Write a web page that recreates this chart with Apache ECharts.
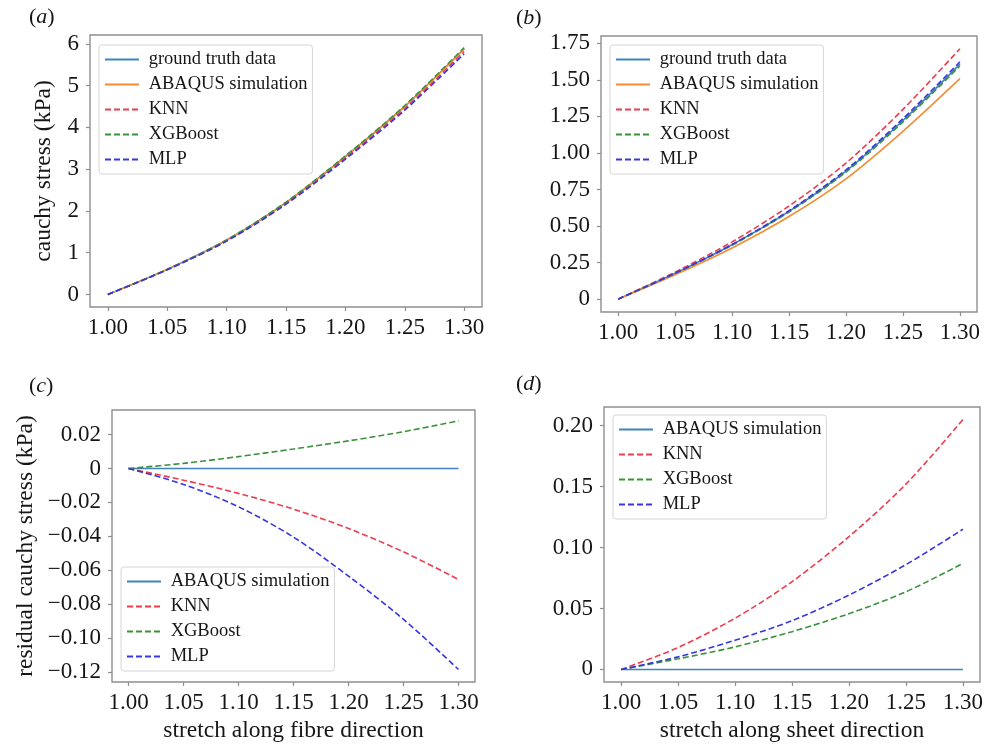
<!DOCTYPE html>
<html>
<head>
<meta charset="utf-8">
<script src="https://cdn.jsdelivr.net/npm/echarts@6/dist/echarts.min.js"></script>
<style>
  html, body { margin: 0; padding: 0; background: #fff; }
  #chart { width: 987px; height: 744px; }
</style>
</head>
<body>
<div id="chart"></div>
<script>
// Stretch values shared by all four panels
const stretch = [1.00, 1.05, 1.10, 1.15, 1.20, 1.25, 1.30];

// (a) cauchy stress, fibre direction (kPa)
const fibreTruth  = [0, 0.600, 1.300, 2.200, 3.300, 4.500, 5.880];
const fibreAbaqus = [0, 0.600, 1.300, 2.200, 3.300, 4.500, 5.880];
const fibreKnn    = [0, 0.593, 1.285, 2.176, 3.265, 4.451, 5.815];
const fibreXgb    = [0, 0.603, 1.307, 2.212, 3.316, 4.522, 5.908];
const fibreMlp    = [0, 0.591, 1.277, 2.160, 3.237, 4.411, 5.761];

// (b) cauchy stress, sheet direction (kPa)
const sheetTruth  = [0, 0.177, 0.372, 0.600, 0.876, 1.222, 1.608];
const sheetAbaqus = [0, 0.167, 0.350, 0.565, 0.823, 1.148, 1.508];
const sheetKnn    = [0, 0.185, 0.392, 0.637, 0.931, 1.298, 1.713];
const sheetXgb    = [0, 0.176, 0.369, 0.596, 0.869, 1.212, 1.595];
const sheetMlp    = [0, 0.177, 0.374, 0.605, 0.884, 1.234, 1.623];

// (c) residual cauchy stress, fibre direction (kPa)
const fibreResAbaqus = [0, 0, 0, 0, 0, 0, 0];
const fibreResKnn    = [0, -0.0069, -0.0147, -0.0240, -0.0354, -0.0492, -0.0655];
const fibreResXgb    = [0, 0.0030, 0.0070, 0.0115, 0.0163, 0.0217, 0.0281];
const fibreResMlp    = [0, -0.0094, -0.0226, -0.0405, -0.0635, -0.0890, -0.1186];

// (d) residual cauchy stress, sheet direction (kPa)
const sheetResAbaqus = [0, 0, 0, 0, 0, 0, 0];
const sheetResKnn    = [0, 0.0180, 0.0420, 0.0720, 0.1090, 0.1520, 0.2050];
const sheetResXgb    = [0, 0.0087, 0.0185, 0.0310, 0.0457, 0.0637, 0.0870];
const sheetResMlp    = [0, 0.0103, 0.0240, 0.0400, 0.0610, 0.0860, 0.1150];

// Tick values and their labels
const xTicks = [1.00, 1.05, 1.10, 1.15, 1.20, 1.25, 1.30];
const xTickLabels = ['1.00', '1.05', '1.10', '1.15', '1.20', '1.25', '1.30'];
const yTicksA = [0, 1, 2, 3, 4, 5, 6];
const yTickLabelsA = ['0', '1', '2', '3', '4', '5', '6'];
const yTicksB = [0, 0.25, 0.5, 0.75, 1.0, 1.25, 1.5, 1.75];
const yTickLabelsB = ['0', '0.25', '0.50', '0.75', '1.00', '1.25', '1.50', '1.75'];
const yTicksC = [-0.12, -0.10, -0.08, -0.06, -0.04, -0.02, 0, 0.02];
const yTickLabelsC = ['\u22120.12', '\u22120.10', '\u22120.08', '\u22120.06', '\u22120.04', '\u22120.02', '0', '0.02'];
const yTicksD = [0, 0.05, 0.10, 0.15, 0.20];
const yTickLabelsD = ['0', '0.05', '0.10', '0.15', '0.20'];

const FONT = '"Liberation Serif", "Times New Roman", "DejaVu Serif", serif';
const FRAME = '#8f8f8f';
const TEXT = '#161616';
const C_SOLID = '#3f84c0';
const C_ORANGE = '#f38c33';
const C_RED = '#ec3d4e';
const C_GREEN = '#3a923a';
const C_BLUE = '#3636e2';

function pairs(xs, ys) { return xs.map((x, i) => [x, ys[i]]); }

function labelFor(ticks, labels) {
  return function (v) {
    for (let i = 0; i < ticks.length; i++) {
      if (Math.abs(ticks[i] - v) < 1e-9) return labels[i];
    }
    return '';
  };
}

const grids = [
  { left: 90,  top: 35,  width: 392, height: 272 },
  { left: 601, top: 36,  width: 376, height: 276 },
  { left: 112, top: 410, width: 363, height: 272 },
  { left: 604, top: 407, width: 376, height: 277 }
].map(g => Object.assign({
  show: true, borderColor: FRAME, borderWidth: 1.4, backgroundColor: '#fff'
}, g));

function xAxis(gi, name) {
  return {
    type: 'value', gridIndex: gi, min: 0.985, max: 1.315,
    axisLine: { show: false, onZero: false },
    splitLine: { show: false },
    axisTick: { show: true, length: 4, customValues: xTicks, lineStyle: { color: FRAME, width: 1.2 } },
    axisLabel: {
      customValues: xTicks, formatter: labelFor(xTicks, xTickLabels),
      fontFamily: FONT, fontSize: 23, color: TEXT, margin: 9
    },
    name: name || '', nameLocation: 'middle', nameGap: 37,
    nameTextStyle: { fontFamily: FONT, fontSize: 23.5, color: TEXT }
  };
}

function yAxis(gi, min, max, ticks, labels, name, gap) {
  return {
    type: 'value', gridIndex: gi, min: min, max: max,
    axisLine: { show: false, onZero: false },
    splitLine: { show: false },
    axisTick: { show: true, length: 4, customValues: ticks, lineStyle: { color: FRAME, width: 1.2 } },
    axisLabel: {
      customValues: ticks, formatter: labelFor(ticks, labels),
      fontFamily: FONT, fontSize: 23, color: TEXT, margin: 11
    },
    name: name || '', nameLocation: 'middle', nameGap: gap || 30,
    nameTextStyle: { fontFamily: FONT, fontSize: 23.5, color: TEXT }
  };
}

function line(gi, key, label, ys, color, dashed) {
  return {
    type: 'line', xAxisIndex: gi, yAxisIndex: gi,
    name: key + ':' + label,
    data: pairs(stretch, ys),
    symbol: 'none', showSymbol: false, smooth: 0.3,
    lineStyle: { color: color, width: 1.6, type: dashed ? [6, 3] : 'solid' },
    itemStyle: { color: color },
    emphasis: { disabled: true },
    silent: true
  };
}

const series = [
  line(0, 'a', 'ground truth data', fibreTruth, C_SOLID, false),
  line(0, 'a', 'ABAQUS simulation', fibreAbaqus, C_ORANGE, false),
  line(0, 'a', 'KNN', fibreKnn, C_RED, true),
  line(0, 'a', 'XGBoost', fibreXgb, C_GREEN, true),
  line(0, 'a', 'MLP', fibreMlp, C_BLUE, true),

  line(1, 'b', 'ground truth data', sheetTruth, C_SOLID, false),
  line(1, 'b', 'ABAQUS simulation', sheetAbaqus, C_ORANGE, false),
  line(1, 'b', 'KNN', sheetKnn, C_RED, true),
  line(1, 'b', 'XGBoost', sheetXgb, C_GREEN, true),
  line(1, 'b', 'MLP', sheetMlp, C_BLUE, true),

  line(2, 'c', 'ABAQUS simulation', fibreResAbaqus, C_SOLID, false),
  line(2, 'c', 'KNN', fibreResKnn, C_RED, true),
  line(2, 'c', 'XGBoost', fibreResXgb, C_GREEN, true),
  line(2, 'c', 'MLP', fibreResMlp, C_BLUE, true),

  line(3, 'd', 'ABAQUS simulation', sheetResAbaqus, C_SOLID, false),
  line(3, 'd', 'KNN', sheetResKnn, C_RED, true),
  line(3, 'd', 'XGBoost', sheetResXgb, C_GREEN, true),
  line(3, 'd', 'MLP', sheetResMlp, C_BLUE, true)
];

function legend(key, names, left, top) {
  return {
    orient: 'vertical', left: left, top: top,
    data: names.map(n => key + ':' + n),
    formatter: n => ' ' + n.slice(n.indexOf(':') + 1),
    itemWidth: 34, itemHeight: 14, itemGap: 6,
    padding: [5, 5, 5, 5],
    backgroundColor: 'rgba(255,255,255,0.85)',
    borderColor: '#d6d6d6', borderWidth: 1, borderRadius: 3,
    selectedMode: false,
    itemStyle: { opacity: 0 },
    textStyle: { fontFamily: FONT, fontSize: 18.5, color: TEXT }
  };
}

const fullNames = ['ground truth data', 'ABAQUS simulation', 'KNN', 'XGBoost', 'MLP'];
const resNames = ['ABAQUS simulation', 'KNN', 'XGBoost', 'MLP'];

function panelTitle(letter, left, top) {
  return {
    text: '{p|(}{i|' + letter + '}{p|)}', left: left, top: top, padding: 0,
    textStyle: {
      fontWeight: 'normal',
      rich: {
        p: { fontFamily: FONT, fontSize: 22, fontWeight: 'normal', color: TEXT },
        i: { fontFamily: FONT, fontSize: 22, fontWeight: 'normal', fontStyle: 'italic', color: TEXT }
      }
    }
  };
}

const chart = echarts.init(document.getElementById('chart'), null, { renderer: 'canvas' });
chart.setOption({
  animation: false,
  backgroundColor: '#fff',
  title: [
    panelTitle('a', 29, 6),
    panelTitle('b', 516, 7),
    panelTitle('c', 29, 375),
    panelTitle('d', 516, 373)
  ],
  grid: grids,
  xAxis: [
    xAxis(0),
    xAxis(1),
    xAxis(2, 'stretch along fibre direction'),
    xAxis(3, 'stretch along sheet direction')
  ],
  yAxis: [
    yAxis(0, -0.3, 6.21, yTicksA, yTickLabelsA, 'cauchy stress (kPa)', 34),
    yAxis(1, -0.088, 1.80, yTicksB, yTickLabelsB),
    yAxis(2, -0.126, 0.0345, yTicksC, yTickLabelsC, 'residual cauchy stress (kPa)', 74),
    yAxis(3, -0.0103, 0.2153, yTicksD, yTickLabelsD)
  ],
  legend: [
    legend('a', fullNames, 99, 45),
    legend('b', fullNames, 610, 45),
    legend('c', resNames, 121, 567),
    legend('d', resNames, 613, 415)
  ],
  series: series
});
</script>
</body>
</html>
